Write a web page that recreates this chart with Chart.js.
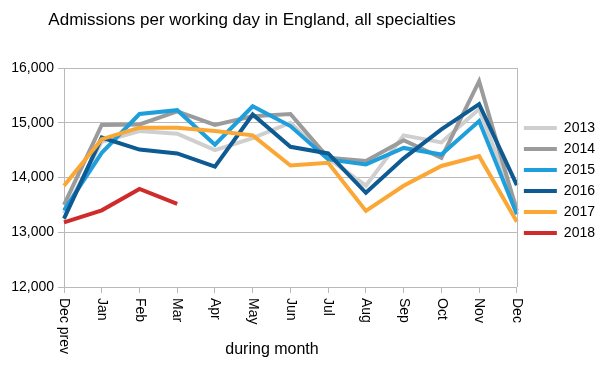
<!DOCTYPE html>
<html>
<head>
<meta charset="utf-8">
<script src="https://cdn.jsdelivr.net/npm/chart.js@4/dist/chart.umd.min.js"></script>
<style>
    html, body { margin: 0; padding: 0; background: #fff; }
    #wrap { position: relative; width: 605px; height: 367px; }
</style>
</head>
<body>
<div id="wrap"><canvas id="admissions-chart"></canvas></div>
<script>
// Data
var months = ['Dec prev', 'Jan', 'Feb', 'Mar', 'Apr', 'May', 'Jun', 'Jul', 'Aug', 'Sep', 'Oct', 'Nov', 'Dec'];
var years = ['2013', '2014', '2015', '2016', '2017', '2018'];
var y2013 = [13350, 14650, 14850, 14800, 14500, 14720, 15000, 14350, 13850, 14770, 14640, 15250, 13450];
var y2014 = [13500, 14960, 14970, 15210, 14960, 15120, 15160, 14360, 14300, 14680, 14360, 15760, 13390];
var y2015 = [13400, 14450, 15160, 15230, 14600, 15300, 14940, 14330, 14240, 14540, 14420, 15030, 13330];
var y2016 = [13250, 14730, 14510, 14440, 14200, 15150, 14560, 14440, 13720, 14350, 14880, 15340, 13860];
var y2017 = [13850, 14700, 14910, 14910, 14850, 14770, 14220, 14270, 13390, 13850, 14210, 14390, 13190];
var y2018 = [13180, 13400, 13790, 13520];
var yTicks = [12000, 13000, 14000, 15000, 16000];

var chartTitle = 'Admissions per working day in England, all specialties';
var xTitle = 'during month';

var seriesValues = [y2013, y2014, y2015, y2016, y2017, y2018];
var seriesColors = ['#cfcfcf', '#9b9b9b', '#1e9fdb', '#0e5a93', '#fba735', '#cf2b2b'];

var fontFamily = '"Liberation Sans", Arial, Helvetica, sans-serif';
var gridColor = '#b9b9b9';

// Text drawn by hand: title, rotated month labels, axis title, right frame
var extrasPlugin = {
    id: 'extras',
    afterDraw: function(chart) {
        var ctx = chart.ctx;
        var area = chart.chartArea;
        var xScale = chart.scales.x;

        ctx.save();
        // right frame line
        ctx.strokeStyle = gridColor;
        ctx.lineWidth = 1;
        ctx.beginPath();
        ctx.moveTo(Math.round(area.right) + 0.5, area.top);
        ctx.lineTo(Math.round(area.right) + 0.5, area.bottom);
        ctx.stroke();

        ctx.fillStyle = '#000';
        ctx.font = '17px ' + fontFamily;
        ctx.textAlign = 'center';
        ctx.textBaseline = 'middle';
        ctx.fillText(chartTitle, 252, 20);

        // month labels read top to bottom
        ctx.font = '14px ' + fontFamily;
        ctx.textAlign = 'left';
        months.forEach(function(label, i) {
            var x = xScale.getPixelForValue(i);
            ctx.save();
            ctx.translate(x, area.bottom + 11);
            ctx.rotate(Math.PI / 2);
            ctx.fillText(label, 0, 0);
            ctx.restore();
        });

        ctx.font = '16px ' + fontFamily;
        ctx.textAlign = 'center';
        ctx.fillText(xTitle, 272, 350);
        ctx.restore();
    }
};

var datasets = years.map(function(year, i) {
    return {
        label: year,
        data: seriesValues[i],
        borderColor: seriesColors[i],
        backgroundColor: seriesColors[i],
        borderWidth: 4,
        pointRadius: 0,
        pointHoverRadius: 0,
        tension: 0,
        fill: false,
        order: years.length - i
    };
});

var ctx = document.getElementById('admissions-chart');
var chart = new Chart(ctx, {
    type: 'line',
    data: { labels: months, datasets: datasets },
    plugins: [extrasPlugin],
    options: {
        responsive: true,
        maintainAspectRatio: false,
        animation: false,
        // bottom padding keeps the legend centred on the plot; labels below are drawn by the plugin
        layout: { padding: { top: 68, right: 0, bottom: 74, left: 0 } },
        plugins: {
            title: { display: false },
            tooltip: { enabled: false },
            legend: {
                position: 'right',
                labels: {
                    usePointStyle: true,
                    pointStyle: 'line',
                    pointStyleWidth: 33,
                    color: '#000',
                    padding: 7,
                    font: { family: fontFamily, size: 14 },
                    sort: function(a, b) { return a.datasetIndex - b.datasetIndex; }
                }
            }
        },
        scales: {
            x: {
                offset: false,
                grid: { display: true, drawOnChartArea: false, color: gridColor, tickLength: 6 },
                border: { color: gridColor },
                ticks: { display: false },
                afterFit: function(scale) { scale.height = 6; }
            },
            y: {
                min: yTicks[0],
                max: yTicks[yTicks.length - 1],
                afterBuildTicks: function(scale) {
                    scale.ticks = yTicks.map(function(v) { return { value: v }; });
                },
                grid: { color: gridColor, tickLength: 6 },
                border: { color: gridColor },
                ticks: {
                    color: '#000',
                    padding: 4,
                    font: { family: fontFamily, size: 14 }
                },
                afterFit: function(scale) { scale.width = 64; }
            }
        }
    }
});
</script>
</body>
</html>
